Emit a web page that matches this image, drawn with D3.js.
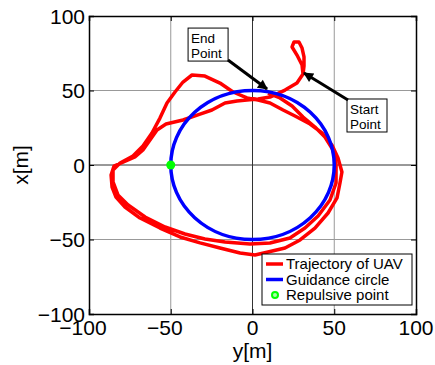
<!DOCTYPE html>
<html>
<head>
<meta charset="utf-8"/>
<script src="https://d3js.org/d3.v7.min.js"></script>
<title>UAV trajectory</title>
<style type="text/css">
  body { margin: 0; background-color: white; }
  text { font-family: "Liberation Sans", Arial, sans-serif; fill: black; }
</style>
</head>
<body>
<div id="svg_wrapper"></div>
<script type="text/javascript">

// trajectory of the UAV, horizontal axis is y[m], vertical axis is x[m]
var trajY = [30.9, 30.3, 27.2, 24.2, 25.4, 28.4, 30.3, 31.5, 31.5, 30.9,
             27.2, 19.9, 10.7, 3.4, -3.4, -9.5, -16.8, -24.8, -32.1, -42.5,
             -52.9, -58.4, -62.7, -67.0, -71.9, -79.2, -84.7, -86.5, -85.9, -83.5,
             -78.0, -68.8, -56.6, -44.3, -32.1, -19.9, -7.6, 1.5, 9.5, 19.9,
             29.1, 38.2, 46.2, 51.7, 53.5, 54.7, 52.3, 48.6, 42.5, 35.2,
             26.0, 18.7, 10.7, 3.4, -3.4, -11.9, -19.9, -29.1, -37.0, -42.5,
             -47.4, -52.3, -56.6, -61.5, -67.0, -73.1, -81.0, -85.3, -85.3, -82.3,
             -76.1, -65.7, -53.5, -41.3, -29.1, -16.8, -1.5, 10.7, 22.9, 32.1,
             40.1, 47.4, 51.1, 51.1, 49.2, 44.3, 38.2, 30.9, 24.2, 16.8, 9.5];
var trajX = [61.1, 67.1, 73.8, 79.2, 82.6, 82.6, 78.5, 72.5, 66.4, 61.1,
             55.0, 50.3, 45.6, 44.3, 43.6, 43.0, 41.6, 36.9, 34.2, 30.2,
             27.5, 23.5, 16.8, 10.1, 5.4, 2.0, -0.7, -6.7, -14.8, -21.5,
             -28.2, -35.6, -42.3, -48.3, -52.3, -55.7, -59.1, -60.4, -58.4, -55.7,
             -50.3, -42.3, -32.2, -22.1, -12.1, -4.7, 4.7, 13.4, 21.5, 27.5,
             32.9, 36.9, 41.6, 43.6, 45.0, 49.0, 55.0, 59.7, 60.4, 55.7,
             49.0, 41.6, 31.5, 21.5, 12.8, 6.0, 1.3, -3.4, -11.4, -20.1,
             -26.8, -34.9, -41.6, -46.3, -49.7, -51.7, -53.0, -52.3, -49.0, -42.3,
             -34.2, -23.5, -12.1, 0.0, 10.1, 18.8, 25.5, 32.2, 39.6, 45.0, 48.3];

// guidance circle and repulsive point
var circleCenter = [0, 0];
var circleRadius = 50;
var repulsive = [-50, 0];

var ticks = [-100, -50, 0, 50, 100];
var legendLabels = ["Trajectory of UAV", "Guidance circle", "Repulsive point"];

// annotations: text lines, box corner, arrow tail and tip (data units)
var annLines = [["End", "Point"], ["Start", "Point"]];
var annBox = [[-39.4, 91.9], [57.8, 44.3]];
var annTail = [[-15.0, 70.5], [58.4, 43.6]];
var annTip = [[8.9, 51.0], [31.5, 61.7]];

var margin = {top: 16, right: 19, bottom: 51, left: 89},
    width = 435 - margin.left - margin.right,
    height = 365 - margin.top - margin.bottom;

var svg = d3.select("#svg_wrapper")
    .append("svg")
    .attr("width", 435)
    .attr("height", 365);

var x = d3.scaleLinear().domain([-100, 100]).range([margin.left, margin.left + width]),
    y = d3.scaleLinear().domain([-100, 100]).range([margin.top + height, margin.top]);

svg.append("defs").append("marker")
    .attr("id", "head")
    .attr("markerUnits", "userSpaceOnUse")
    .attr("viewBox", "0 0 10 10")
    .attr("refX", 9).attr("refY", 5)
    .attr("markerWidth", 12).attr("markerHeight", 10)
    .attr("orient", "auto")
  .append("path")
    .attr("d", "M0,0 L10,5 L0,10 z")
    .style("fill", "black");

// grid
var grid = svg.append("g");
ticks.slice(1, -1).forEach(function(t) {
  var col = t == 0 ? "#333" : "#999";
  grid.append("line")
      .attr("x1", x(t)).attr("x2", x(t))
      .attr("y1", y(-100)).attr("y2", y(100))
      .style("stroke", col).style("stroke-width", 1);
  grid.append("line")
      .attr("x1", x(-100)).attr("x2", x(100))
      .attr("y1", y(t)).attr("y2", y(t))
      .style("stroke", col).style("stroke-width", 1);
});

// axes, ticks pointing inward
svg.append("g")
    .attr("transform", "translate(0," + y(-100) + ")")
    .call(d3.axisBottom(x).tickValues(ticks).tickSize(-5).tickFormat(""));
svg.append("g")
    .attr("transform", "translate(0," + y(100) + ")")
    .call(d3.axisTop(x).tickValues(ticks).tickSize(-5).tickFormat(""));
svg.append("g")
    .attr("transform", "translate(" + x(-100) + ",0)")
    .call(d3.axisLeft(y).tickValues(ticks).tickSize(-5).tickFormat(""));
svg.append("g")
    .attr("transform", "translate(" + x(100) + ",0)")
    .call(d3.axisRight(y).tickValues(ticks).tickSize(-5).tickFormat(""));
svg.selectAll(".domain").style("stroke", "black").style("stroke-width", 1.5);

// tick labels
svg.selectAll(".xlab")
    .data(ticks).enter().append("text")
    .attr("x", function(d) { return x(d) + (d < 0 ? -6 : 0); })
    .attr("y", y(-100) + 21)
    .style("font-size", "21px")
    .style("text-anchor", "middle")
    .text(function(d) { return d < 0 ? "\u2212" + (-d) : d; });
svg.selectAll(".ylab")
    .data(ticks).enter().append("text")
    .attr("x", x(-100) - 4)
    .attr("y", function(d) { return y(d); })
    .attr("dy", "0.36em")
    .style("font-size", "21px")
    .style("text-anchor", "end")
    .text(function(d) { return d < 0 ? "\u2212" + (-d) : d; });

svg.append("text")
    .attr("x", x(0))
    .attr("y", y(-100) + 44)
    .style("font-size", "21px")
    .style("text-anchor", "middle")
    .text("y[m]");
svg.append("text")
    .attr("transform", "translate(28," + y(0) + ") rotate(-90)")
    .style("font-size", "21px")
    .style("text-anchor", "middle")
    .text("x[m]");

// trajectory
var traj = trajY.map(function(d, i) { return [d, trajX[i]]; });
var line = d3.line()
    .x(function(d) { return x(d[0]); })
    .y(function(d) { return y(d[1]); });
svg.append("path")
    .attr("d", line(traj))
    .style("fill", "none")
    .style("stroke", "#ff0000")
    .style("stroke-width", 3.5)
    .style("stroke-linejoin", "round");

// guidance circle
svg.append("ellipse")
    .attr("cx", x(circleCenter[0]))
    .attr("cy", y(circleCenter[1]))
    .attr("rx", x(circleRadius) - x(0))
    .attr("ry", y(0) - y(circleRadius))
    .style("fill", "none")
    .style("stroke", "#0000ff")
    .style("stroke-width", 3.5);

svg.append("circle")
    .attr("cx", x(repulsive[0]))
    .attr("cy", y(repulsive[1]))
    .attr("r", 4.5)
    .style("fill", "#00ff00");

// annotations
annLines.forEach(function(lines, i) {
  var g = svg.append("g");
  g.append("rect")
      .attr("x", x(annBox[i][0]))
      .attr("y", y(annBox[i][1]))
      .attr("width", 40).attr("height", 33)
      .style("fill", "white").style("stroke", "black").style("stroke-width", 1);
  lines.forEach(function(t, j) {
    g.append("text")
        .attr("x", x(annBox[i][0]) + 3)
        .attr("y", y(annBox[i][1]) + 15 + j * 15)
        .style("font-size", "13.5px")
        .text(t);
  });
  svg.append("line")
      .attr("x1", x(annTail[i][0])).attr("y1", y(annTail[i][1]))
      .attr("x2", x(annTip[i][0])).attr("y2", y(annTip[i][1]))
      .style("stroke", "black").style("stroke-width", 3)
      .attr("marker-end", "url(#head)");
});

// legend
var leg = svg.append("g").attr("transform", "translate(262,254)");
leg.append("rect")
    .attr("width", 150).attr("height", 51)
    .style("fill", "white").style("stroke", "black").style("stroke-width", 1);
var legColors = ["#ff0000", "#0000ff", "#00ff00"];
legendLabels.forEach(function(t, i) {
  var yy = 10 + i * 15.5;
  if (i < 2) {
    leg.append("line")
        .attr("x1", 4).attr("x2", 21).attr("y1", yy).attr("y2", yy)
        .style("stroke", legColors[i]).style("stroke-width", 3.5);
  } else {
    leg.append("circle")
        .attr("cx", 13).attr("cy", yy).attr("r", 3)
        .style("fill", "#aaffaa").style("stroke", legColors[i]).style("stroke-width", 2);
  }
  leg.append("text")
      .attr("x", 24).attr("y", yy)
      .attr("dy", "0.36em")
      .style("font-size", "15px")
      .text(t);
});

</script>
</body>
</html>
